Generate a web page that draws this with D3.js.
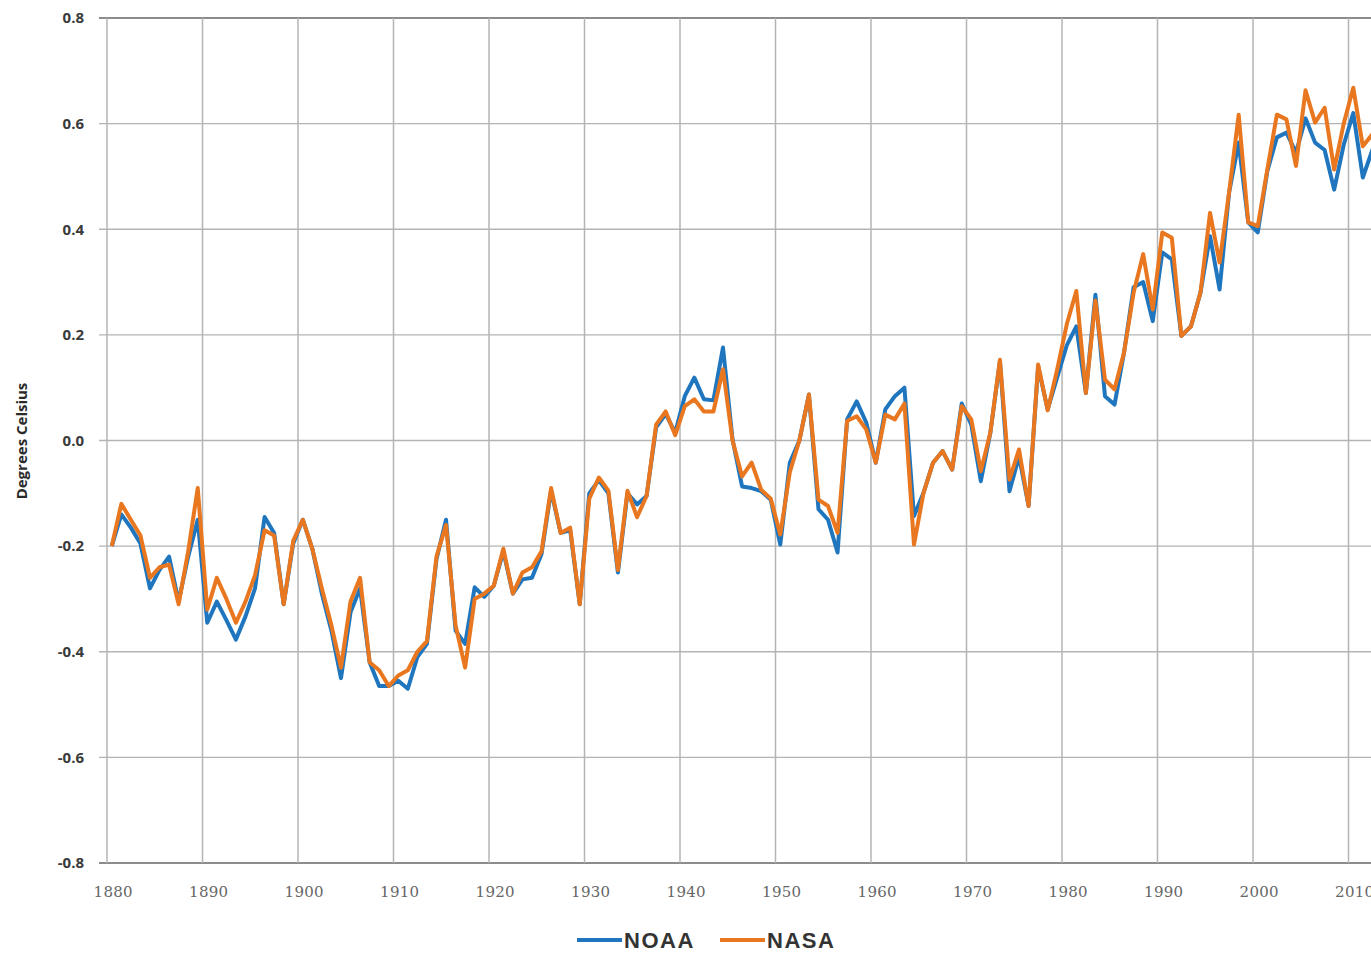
<!DOCTYPE html>
<html>
  <head>
    <title>NOAA vs NASA temperature anomalies</title>
    <script src="https://d3js.org/d3.v7.min.js"></script>
    <style>
      body { margin: 0; background: #fff; }
    </style>
  </head>
  <body>
    <div id="chart"></div>

    <script>
      // annual anomalies
      const firstYear = 1880;
      const lastYear = 2013;
      const years = d3.range(firstYear, lastYear + 1);

      const noaa = [
        -0.20, -0.14, -0.165, -0.195, -0.28, -0.245, -0.22, -0.305, -0.22, -0.15,
        -0.345, -0.305, -0.34, -0.377, -0.333, -0.28, -0.145, -0.175, -0.31, -0.195,
        -0.15, -0.205, -0.29, -0.36, -0.45, -0.325, -0.28, -0.42, -0.465, -0.465,
        -0.455, -0.47, -0.41, -0.385, -0.225, -0.15, -0.36, -0.385, -0.278, -0.296,
        -0.275, -0.21, -0.29, -0.263, -0.26, -0.215, -0.095, -0.175, -0.17, -0.31,
        -0.10, -0.075, -0.10, -0.25, -0.10, -0.121, -0.105, 0.025, 0.05, 0.015,
        0.084, 0.119, 0.078, 0.076, 0.176, 0.002, -0.087, -0.09, -0.096, -0.112,
        -0.197, -0.042, 0.0, 0.087, -0.13, -0.15, -0.212, 0.04, 0.074, 0.034,
        -0.042, 0.059, 0.084, 0.10, -0.143, -0.099, -0.042, -0.02, -0.055, 0.07,
        0.03, -0.077, 0.015, 0.15, -0.096, -0.03, -0.124, 0.14, 0.059, 0.12,
        0.18, 0.216, 0.09, 0.276, 0.084, 0.068, 0.167, 0.29, 0.30, 0.226,
        0.356, 0.343, 0.198, 0.216, 0.28, 0.387, 0.286, 0.47, 0.564, 0.413,
        0.394, 0.51, 0.574, 0.583, 0.545, 0.61, 0.564, 0.55, 0.475, 0.56,
        0.62, 0.498, 0.55, 0.59
      ];

      const nasa = [
        -0.20, -0.12, -0.15, -0.18, -0.26, -0.24, -0.235, -0.31, -0.21, -0.09,
        -0.32, -0.26, -0.30, -0.345, -0.305, -0.255, -0.17, -0.18, -0.31, -0.19,
        -0.15, -0.205, -0.28, -0.35, -0.43, -0.305, -0.26, -0.42, -0.435, -0.465,
        -0.445, -0.435, -0.40, -0.38, -0.22, -0.16, -0.35, -0.43, -0.30, -0.29,
        -0.275, -0.205, -0.29, -0.25, -0.24, -0.21, -0.09, -0.175, -0.165, -0.31,
        -0.11, -0.07, -0.095, -0.245, -0.095, -0.145, -0.105, 0.03, 0.055, 0.01,
        0.065, 0.078, 0.055, 0.055, 0.135, 0.0, -0.068, -0.042, -0.093, -0.11,
        -0.178, -0.06, 0.0, 0.087, -0.112, -0.124, -0.175, 0.037, 0.046, 0.021,
        -0.042, 0.049, 0.04, 0.07, -0.197, -0.099, -0.042, -0.02, -0.055, 0.065,
        0.04, -0.058, 0.015, 0.153, -0.074, -0.017, -0.124, 0.144, 0.057, 0.135,
        0.22, 0.283, 0.09, 0.265, 0.115, 0.097, 0.167, 0.28, 0.353, 0.248,
        0.394, 0.384, 0.198, 0.216, 0.28, 0.431, 0.337, 0.47, 0.617, 0.413,
        0.406, 0.513, 0.617, 0.608, 0.52, 0.663, 0.602, 0.63, 0.513, 0.60,
        0.668, 0.557, 0.58, 0.61
      ];

      const yTicks = [-0.8, -0.6, -0.4, -0.2, 0.0, 0.2, 0.4, 0.6, 0.8];
      const xTickYears = d3.range(1880, 2011, 10);

      const seriesNames = ["NOAA", "NASA"];
      const seriesColors = ["#1f76be", "#e8771f"];

      const width = 1371, height = 953;
      const plotLeft = 107, plotTop = 18, plotBottom = 863;
      const step = 9.55; // px per year (category)

      const svg = d3.select("#chart").append("svg")
        .attr("width", width).attr("height", height)
        .style("font-family", "'Open Sans', 'Liberation Sans', sans-serif");

      // category axis: each year sits in the middle of its slot
      const x = d3.scaleLinear()
        .domain([firstYear, lastYear + 1])
        .range([plotLeft, plotLeft + (lastYear + 1 - firstYear) * step]);
      const y = d3.scaleLinear().domain([-0.8, 0.8]).range([plotBottom, plotTop]);

      const plotRight = x.range()[1];

      // horizontal gridlines
      svg.append("g").selectAll("line")
        .data(yTicks)
        .enter().append("line")
        .attr("x1", plotLeft - 8).attr("x2", plotRight)
        .attr("y1", d => y(d)).attr("y2", d => y(d))
        .attr("stroke", d => (d === 0.8 || d === -0.8) ? "#8c8c8c" : "#b4b4b4")
        .attr("stroke-width", d => (d === 0.8 || d === -0.8) ? 2 : 1.3);

      // vertical gridlines at decade boundaries
      svg.append("g").selectAll("line")
        .data(xTickYears)
        .enter().append("line")
        .attr("x1", d => x(d)).attr("x2", d => x(d))
        .attr("y1", plotTop).attr("y2", plotBottom)
        .attr("stroke", "#b4b4b4")
        .attr("stroke-width", 1.5);

      // y labels
      svg.append("g").selectAll("text")
        .data(yTicks)
        .enter().append("text")
        .attr("x", 84)
        .attr("y", d => y(d))
        .attr("dy", "0.35em")
        .attr("text-anchor", "end")
        .attr("font-size", 15)
        .attr("font-weight", "bold")
        .attr("fill", "#3a3a3a")
        .text(d => d.toFixed(1));

      // x labels
      svg.append("g").selectAll("text")
        .data(xTickYears)
        .enter().append("text")
        .attr("x", d => x(d + 0.5) + 1.5)
        .attr("y", 897)
        .attr("text-anchor", "middle")
        .attr("font-family", "'DejaVu Serif', 'Liberation Serif', serif")
        .attr("font-size", 15)
        .attr("letter-spacing", 0.3)
        .attr("fill", "#666")
        .text(d => d);

      // y title
      svg.append("text")
        .attr("transform", "translate(27,441) rotate(-90)")
        .attr("text-anchor", "middle")
        .attr("font-size", 15)
        .attr("font-weight", "bold")
        .attr("fill", "#2a2a2a")
        .text("Degrees Celsius");

      // lines
      const line = d3.line()
        .x((d, i) => x(years[i] + 0.5))
        .y(d => y(d));

      [noaa, nasa].forEach((values, k) => {
        svg.append("path")
          .datum(values)
          .attr("d", line)
          .attr("fill", "none")
          .attr("stroke", seriesColors[k])
          .attr("stroke-width", 4)
          .attr("stroke-linejoin", "round");
      });

      // legend
      const legend = svg.append("g").attr("transform", "translate(577,940)");
      const legendX = [0, 143];
      seriesNames.forEach((name, k) => {
        const g = legend.append("g").attr("transform", `translate(${legendX[k]},0)`);
        g.append("line")
          .attr("x1", 0).attr("x2", 45)
          .attr("stroke", seriesColors[k])
          .attr("stroke-width", 4);
        g.append("text")
          .attr("x", 47)
          .attr("y", 8)
          .attr("font-family", "'Liberation Sans', Arial, sans-serif")
          .attr("font-size", 22)
          .attr("font-weight", "bold")
          .attr("letter-spacing", 1.5)
          .attr("fill", "#333")
          .text(name);
      });
    </script>
  </body>
</html>
